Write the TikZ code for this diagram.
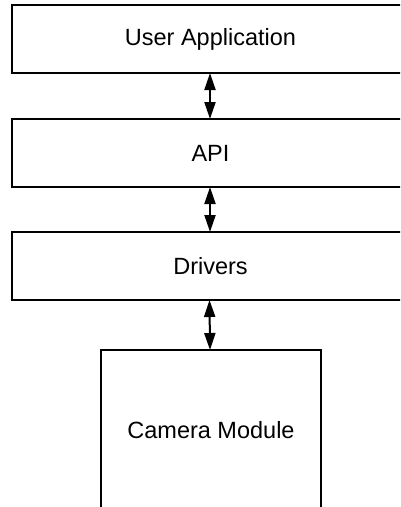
\documentclass[tikz,border=0pt]{standalone}
\usepackage{fontspec}
\setmainfont{Liberation Sans}
\usetikzlibrary{arrows.meta}
\begin{document}
\begin{tikzpicture}[x=1pt,y=-1pt,
  layerbox/.style={draw, line width=2pt, inner sep=0pt, outer sep=0pt, font=\fontsize{23.5}{28}\selectfont},
  link/.style={{Triangle[length=17pt,width=11pt]}-{Triangle[length=17pt,width=11pt]}, line width=2pt}]
\useasboundingbox (0,0) rectangle (400,507);
\clip (0,0) rectangle (400,507);
\node[layerbox, minimum width=397pt, minimum height=68pt] (ua) at (210.5,39) {User Application};
\node[layerbox, minimum width=397pt, minimum height=68pt] (api) at (210.5,153) {API};
\node[layerbox, minimum width=397pt, minimum height=68pt] (drv) at (210.5,266) {Drivers};
\node[layerbox, minimum width=220pt, minimum height=160pt] (cam) at (211,430) {Camera Module};
\draw[link] ([xshift=-0.5pt]ua.south) -- ([xshift=-0.5pt]api.north);
\draw[link] ([xshift=-0.5pt]api.south) -- ([xshift=-0.5pt]drv.north);
\draw[link] ([xshift=-1pt]drv.south) -- ([xshift=-1pt]cam.north);
\end{tikzpicture}
\end{document}
